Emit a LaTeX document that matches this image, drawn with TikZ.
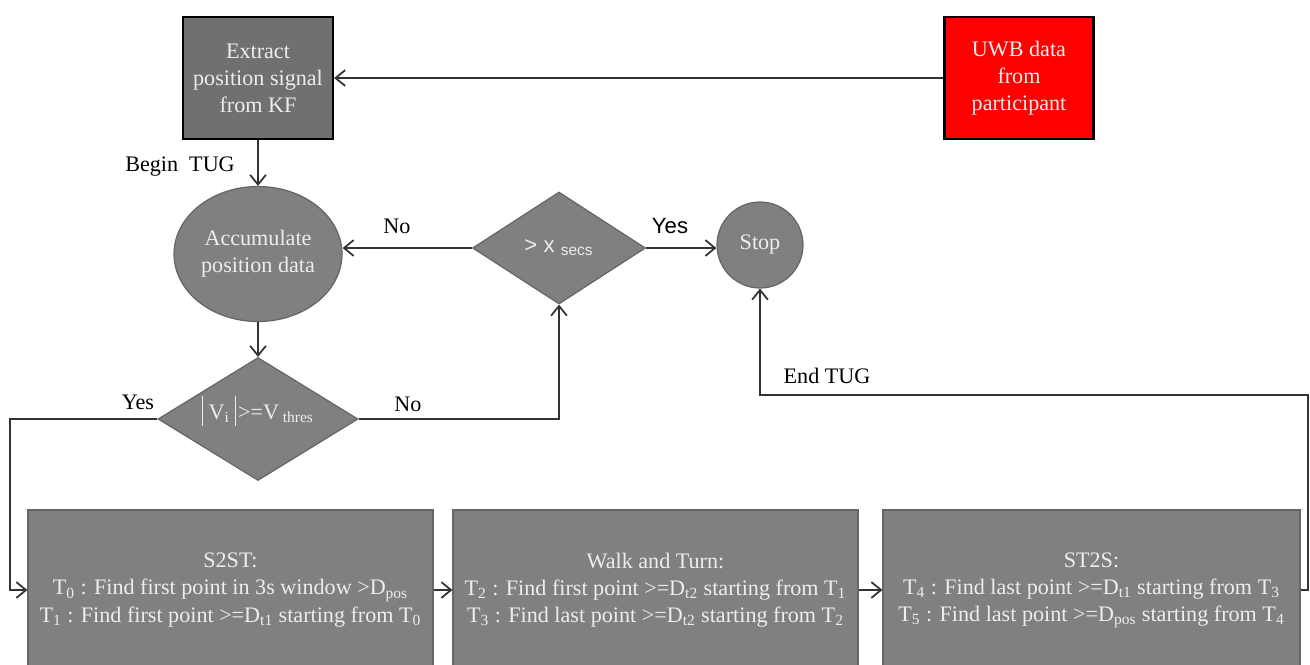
\documentclass[tikz,border=0pt]{standalone}
\usepackage{fontspec}
\setmainfont{Liberation Serif}
\newfontfamily\arialfont{Liberation Sans}
\usetikzlibrary{shapes.geometric}
\usetikzlibrary{arrows.meta}
\colorlet{boxc}{black!50}
\colorlet{extractc}{black!56}
\colorlet{uwbc}{red}
\colorlet{edgec}{black!60}
\colorlet{linec}{black!80}
\colorlet{textc}{white!93!black}

\begin{document}
\begin{tikzpicture}[x=0.02cm,y=-0.02cm,
  every node/.style={font=\fontsize{12.6}{15.4}\selectfont},
  srcbox/.style={rectangle,draw=black,line width=1.3pt,text=textc,align=center,inner sep=0pt,minimum width=3cm,minimum height=2.44cm},
  blockbox/.style={rectangle,draw=edgec,line width=0.7pt,fill=boxc,text=textc,align=center,inner sep=0pt,minimum height=3.2cm},
  decide/.style={diamond,draw=edgec,line width=0.7pt,fill=boxc,text=textc,align=center,inner sep=0pt},
  flow/.style={draw=linec,line width=1pt,-{Straight Barb[length=5.5pt,width=9pt]}},
  plain/.style={draw=linec,line width=1pt}]
\useasboundingbox (0,0) rectangle (1310,664);

\node[srcbox,fill=extractc] (extract) at (258,78) {Extract\\position signal\\from KF};
\node[srcbox,fill=uwbc,minimum width=2.98cm] (uwb) at (1019,78) {UWB data\\from\\participant};
\node[ellipse,draw=edgec,line width=0.7pt,fill=boxc,text=textc,align=center,inner sep=0pt,minimum width=3.36cm,minimum height=2.7cm] (accum) at (258,254) {Accumulate\\position data};
\node[decide,minimum width=3.46cm,minimum height=2.24cm] (xsecs) at (559,248) {\arialfont > x \textsubscript{secs}};
\node[circle,draw=edgec,line width=0.7pt,fill=boxc,text=textc,inner sep=0pt,minimum size=1.72cm] (stop) at (760,245) {Stop};
\node[decide,minimum width=4cm,minimum height=2.46cm] (vi) at (258,419) {\smash{\rule[-4pt]{0.7pt}{17pt}\kern3pt V\textsubscript{i}\kern3pt\rule[-4pt]{0.7pt}{17pt}\kern1pt>=V\,\textsubscript{thres}}};

\node[blockbox,minimum width=8.1cm] (s2st) at (230.5,590) {S2ST:\\T\textsubscript{0} : Find first point in 3s window >D\textsubscript{pos}\\T\textsubscript{1} : Find first point >=D\textsubscript{t1} starting from T\textsubscript{0}};
\node[blockbox,minimum width=8.1cm] (walk) at (655.5,590) {Walk and Turn:\\T\textsubscript{2} : Find first point >=D\textsubscript{t2} starting from T\textsubscript{1}\\T\textsubscript{3} : Find last point >=D\textsubscript{t2} starting from T\textsubscript{2}};
\node[blockbox,minimum width=8.34cm] (st2s) at (1091.5,590) {ST2S:\\T\textsubscript{4} : Find last point >=D\textsubscript{t1} starting from T\textsubscript{3}\\T\textsubscript{5} : Find last point >=D\textsubscript{pos} starting from T\textsubscript{4}};

\node (begintug) at (180,167) {Begin~~TUG};
\node (nolabel) at (397,226) {No};
\node (yeslabel) at (670,226) {\arialfont Yes};
\node (nolower) at (408,404) {No};
\node (yesleft) at (138,402) {Yes};
\node (endtug) at (827,376) {End TUG};

\coordinate (yesturn) at (10,419);
\coordinate (endturn) at (1308,395);

\draw[flow] (uwb.west) -- (extract.east);
\draw[flow] (extract.south) -- (accum.north);
\draw[flow] (xsecs.west) -- (xsecs.west -| accum.east);
\draw[flow] (xsecs.east) -- (xsecs.east -| stop.west);
\draw[flow] (accum.south) -- (vi.north);
\draw[flow] (vi.east) -| (xsecs.south);
\draw[flow] (vi.west) -- (yesturn) |- (s2st.west);
\draw[flow] (s2st.east) -- (walk.west);
\draw[flow] (walk.east) -- (st2s.west);
\draw[flow] (st2s.east) -| (endturn) -| (stop.south);
\end{tikzpicture}
\end{document}
